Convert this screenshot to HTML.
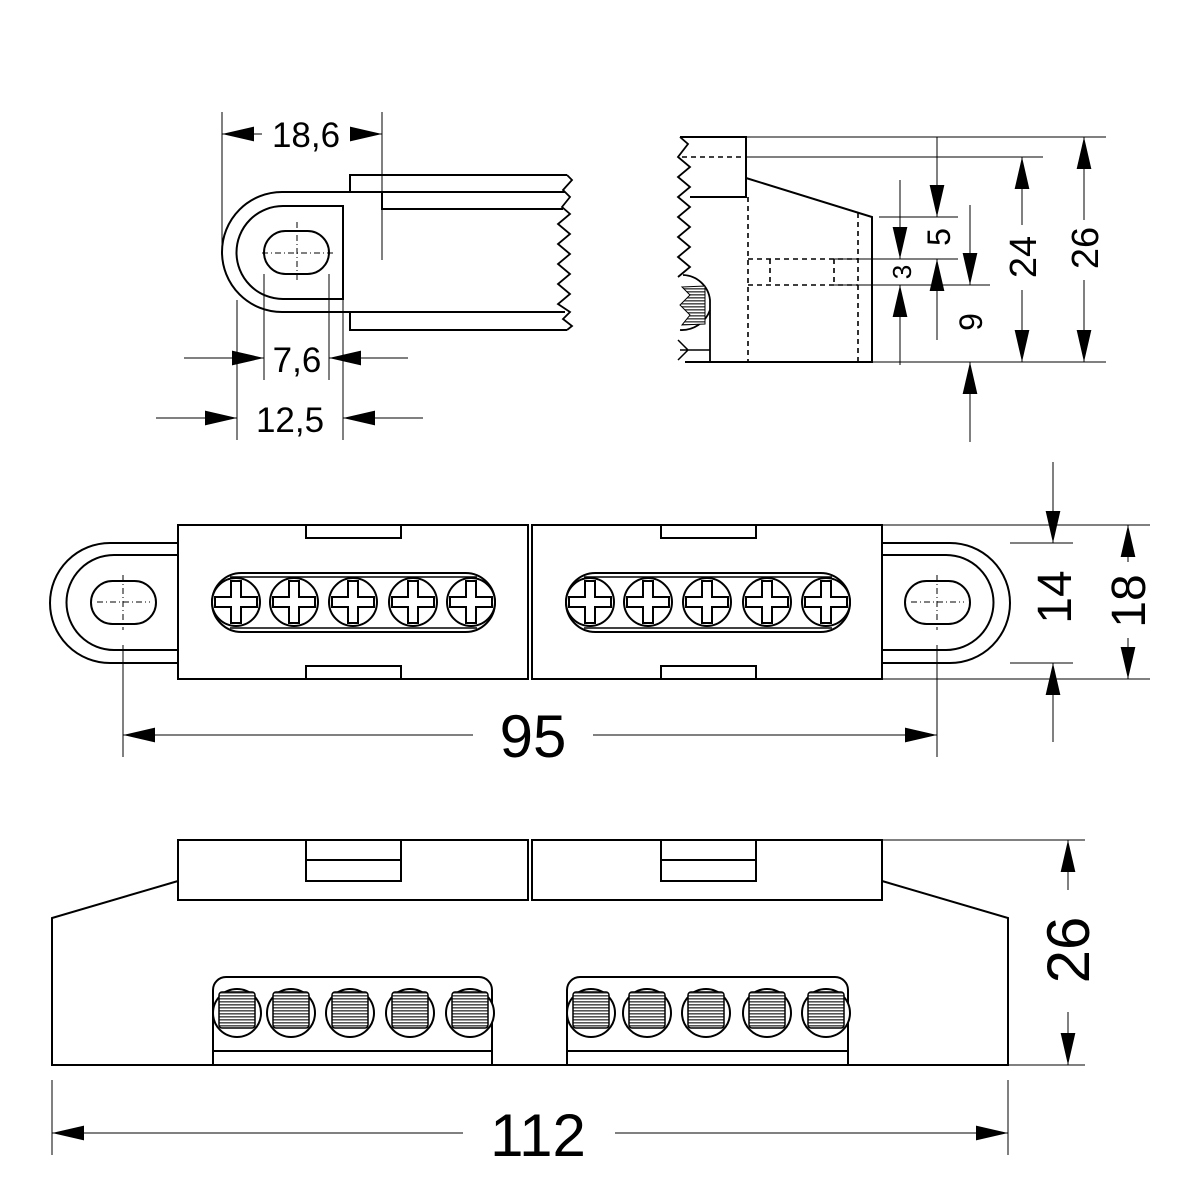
<!DOCTYPE html>
<html><head><meta charset="utf-8"><style>
html,body{margin:0;padding:0;background:#fff}
svg{display:block}
text{font-family:"Liberation Sans",Arial,sans-serif;fill:#000}
</style></head><body>
<svg width="1200" height="1200" viewBox="0 0 1200 1200" xmlns="http://www.w3.org/2000/svg">
<defs>
<pattern id="h" width="4" height="3" patternUnits="userSpaceOnUse"><rect width="4" height="3" fill="#fff"/><rect y="0" width="4" height="1.6" fill="#555"/></pattern>
<marker id="a" viewBox="0 0 10 5" refX="10" refY="2.5" markerWidth="32" markerHeight="16" markerUnits="userSpaceOnUse" orient="auto-start-reverse"><path d="M0,0.2 L10,2.5 L0,4.8z" fill="#000"/></marker>
<g id="scr">
 <circle r="24" fill="#fff" stroke="#000" stroke-width="2"/>
 <path d="M-5,-21 H5 V-5 H21 V5 H5 V21 H-5 V5 H-21 V-5 H-5z" fill="#fff" stroke="#000" stroke-width="2"/>
</g>
<g id="scs">
 <circle r="24" fill="#fff" stroke="#000" stroke-width="2"/>
 <rect x="-18" y="-21" width="36" height="36" rx="3" fill="url(#h)" stroke="#000" stroke-width="1.5"/>
</g>
</defs>
<g fill="none" stroke="#000" stroke-width="2">
<path d="M567,175 H350 V192"/>
<path d="M282,192 H565 M382,192 V209 H563"/>
<path d="M282,192 A60,60 0 0 0 282,312 H565 M350,312 V330 H567"/>
<path d="M343,206 H283 A46.5,46.5 0 0 0 283,299 H343 Z"/>
<rect x="264" y="231" width="65" height="43" rx="21.5"/>
<polyline points="567,175 572,180 563,190 570,197 562,207 570,214 558,224 570,234 558,244 570,254 558,264 570,274 558,284 570,294 558,304 570,312 563,319 572,326 567,330" stroke-width="1.8"/>
</g>
<g stroke="#000" stroke-width="1" fill="none">
<path d="M297,222 V282 M262,253 H333" stroke-dasharray="6,3,1,3"/>
<line x1="222" y1="112" x2="222" y2="260"/>
<line x1="382" y1="112" x2="382" y2="260"/>
<line x1="262" y1="134" x2="222" y2="134" marker-end="url(#a)"/>
<line x1="350" y1="134" x2="382" y2="134" marker-end="url(#a)"/>
<line x1="264" y1="274" x2="264" y2="380"/>
<line x1="329" y1="274" x2="329" y2="380"/>
<line x1="237" y1="300" x2="237" y2="440"/>
<line x1="343" y1="300" x2="343" y2="440"/>
<line x1="184" y1="358" x2="264" y2="358" marker-end="url(#a)"/>
<line x1="408" y1="358" x2="329" y2="358" marker-end="url(#a)"/>
<line x1="156" y1="418" x2="237" y2="418" marker-end="url(#a)"/>
<line x1="423" y1="418" x2="343" y2="418" marker-end="url(#a)"/>
</g>
<text x="306" y="147" font-size="35" text-anchor="middle">18,6</text>
<text x="297" y="372" font-size="35" text-anchor="middle">7,6</text>
<text x="290" y="432" font-size="35" text-anchor="middle">12,5</text>

<g fill="none" stroke="#000" stroke-width="2">
<path d="M680,137 H746 V197 H690"/>
<path d="M746,178 L872,217 V362 H685"/>
<polyline points="680,137 688,144 678,157 690,167 678,177 690,187 678,197 690,207 678,217 690,227 678,237 690,247 678,257 690,267 678,277" stroke-width="1.8"/>
<path d="M683,275 A28,28 0 0 1 710,300 V362" stroke-width="1.8"/>
<path d="M680,330 A30,30 0 0 0 710,310" stroke-width="1.8"/>
<path d="M682,287 L705,286 V324 L682,325 L690,315 L680,305 L690,295Z" fill="url(#h)" stroke-width="1"/>
<path d="M680,350 H710 M678,340 L688,350 L678,360" stroke-width="1.5"/>
</g>
<g fill="none" stroke="#000" stroke-width="1.6" stroke-dasharray="5,4">
<path d="M682,157 H746"/>
<path d="M748,197 V362 M858,213 V362"/>
<path d="M748,259 H858 M748,285 H858 M770,259 V285 M834,259 V285"/>
</g>
<g stroke="#000" stroke-width="1" fill="none">
<path d="M746,137 H1106 M746,157 H1043 M872,362 H1106"/>
<path d="M879,217 H958 M834,259 H958 M834,285 H990"/>
<line x1="937" y1="137" x2="937" y2="217" marker-end="url(#a)"/>
<line x1="937" y1="340" x2="937" y2="259" marker-end="url(#a)"/>
<line x1="900" y1="180" x2="900" y2="259" marker-end="url(#a)"/>
<line x1="900" y1="365" x2="900" y2="285" marker-end="url(#a)"/>
<line x1="970" y1="205" x2="970" y2="285" marker-end="url(#a)"/>
<line x1="970" y1="442" x2="970" y2="362" marker-end="url(#a)"/>
<line x1="1022" y1="225" x2="1022" y2="157" marker-end="url(#a)"/>
<line x1="1022" y1="290" x2="1022" y2="362" marker-end="url(#a)"/>
<line x1="1084" y1="220" x2="1084" y2="137" marker-end="url(#a)"/>
<line x1="1084" y1="280" x2="1084" y2="362" marker-end="url(#a)"/>
</g>
<text transform="translate(950,237) rotate(-90)" font-size="32" text-anchor="middle">5</text>
<text transform="translate(911,272) rotate(-90)" font-size="26" text-anchor="middle">3</text>
<text transform="translate(982,322) rotate(-90)" font-size="32" text-anchor="middle">9</text>
<text transform="translate(1036,257) rotate(-90)" font-size="38" text-anchor="middle">24</text>
<text transform="translate(1098,248) rotate(-90)" font-size="38" text-anchor="middle">26</text>

<g fill="none" stroke="#000" stroke-width="2">
<path d="M178,543 H110 A60,60 0 0 0 110,663 H178"/>
<path d="M178,555 H114 A47.5,47.5 0 0 0 114,650 H178"/>
<rect x="91" y="581" width="65" height="43" rx="21.5"/>
<path d="M882,543 H950 A60,60 0 0 1 950,663 H882"/>
<path d="M882,555 H946 A47.5,47.5 0 0 1 946,650 H882"/>
<rect x="905" y="581" width="65" height="43" rx="21.5"/>
<rect x="178" y="525" width="350" height="154"/>
<rect x="532" y="525" width="350" height="154"/>
<rect x="306" y="525" width="95" height="13"/>
<rect x="306" y="666" width="95" height="13"/>
<rect x="661" y="525" width="95" height="13"/>
<rect x="661" y="666" width="95" height="13"/>
<rect x="212" y="573" width="283" height="59" rx="29.5"/>
<rect x="566" y="573" width="284" height="59" rx="29.5"/>
<path d="M230,577 H477 M230,628 H477 M584,577 H832 M584,628 H832" stroke-width="1.5"/>
</g>
<use href="#scr" x="236" y="602"/><use href="#scr" x="294" y="602"/><use href="#scr" x="353" y="602"/><use href="#scr" x="413" y="602"/><use href="#scr" x="471" y="602"/>
<use href="#scr" x="590" y="602"/><use href="#scr" x="648" y="602"/><use href="#scr" x="707" y="602"/><use href="#scr" x="767" y="602"/><use href="#scr" x="826" y="602"/>
<g stroke="#000" stroke-width="1" fill="none">
<path d="M123,575 V630 M97,602 H150 M937,575 V630 M911,602 H964" stroke-dasharray="6,3,1,3"/>
<path d="M123,645 V757 M937,645 V757"/>
<path d="M882,525 H1150 M1010,543 H1073 M1010,663 H1073 M882,679 H1150"/>
<line x1="473" y1="735" x2="123" y2="735" marker-end="url(#a)"/>
<line x1="593" y1="735" x2="937" y2="735" marker-end="url(#a)"/>
<line x1="1053" y1="462" x2="1053" y2="543" marker-end="url(#a)"/>
<line x1="1053" y1="742" x2="1053" y2="663" marker-end="url(#a)"/>
<line x1="1128" y1="562" x2="1128" y2="525" marker-end="url(#a)"/>
<line x1="1128" y1="638" x2="1128" y2="679" marker-end="url(#a)"/>
</g>
<text x="533" y="757" font-size="60" text-anchor="middle">95</text>
<text transform="translate(1071,597) rotate(-90)" font-size="48" text-anchor="middle">14</text>
<text transform="translate(1145,601) rotate(-90)" font-size="48" text-anchor="middle">18</text>

<g fill="none" stroke="#000" stroke-width="2">
<path d="M178,881 L52,918 V1065 H1008 V918 L882,881"/>
<rect x="178" y="840" width="350" height="60"/>
<rect x="532" y="840" width="350" height="60"/>
<rect x="306" y="840" width="95" height="41"/>
<rect x="661" y="840" width="95" height="41"/>
<path d="M306,860 H401 M661,860 H756"/>
<path d="M213,1065 V990 A13,13 0 0 1 226,977 H479 A13,13 0 0 1 492,990 V1065 M213,1051 H492"/>
<path d="M567,1065 V990 A13,13 0 0 1 580,977 H835 A13,13 0 0 1 848,990 V1065 M567,1051 H848"/>
</g>
<use href="#scs" x="237" y="1013"/><use href="#scs" x="291" y="1013"/><use href="#scs" x="350" y="1013"/><use href="#scs" x="410" y="1013"/><use href="#scs" x="470" y="1013"/>
<use href="#scs" x="591" y="1013"/><use href="#scs" x="647" y="1013"/><use href="#scs" x="706" y="1013"/><use href="#scs" x="767" y="1013"/><use href="#scs" x="826" y="1013"/>
<g stroke="#000" stroke-width="1" fill="none">
<path d="M882,840 H1085 M1008,1065 H1085 M52,1080 V1155 M1008,1080 V1155"/>
<line x1="1068" y1="890" x2="1068" y2="840" marker-end="url(#a)"/>
<line x1="1068" y1="1012" x2="1068" y2="1065" marker-end="url(#a)"/>
<line x1="463" y1="1133" x2="52" y2="1133" marker-end="url(#a)"/>
<line x1="615" y1="1133" x2="1008" y2="1133" marker-end="url(#a)"/>
</g>
<text x="538" y="1156" font-size="60" text-anchor="middle">112</text>
<text transform="translate(1089,950) rotate(-90)" font-size="60" text-anchor="middle">26</text>
</svg>
</body></html>
